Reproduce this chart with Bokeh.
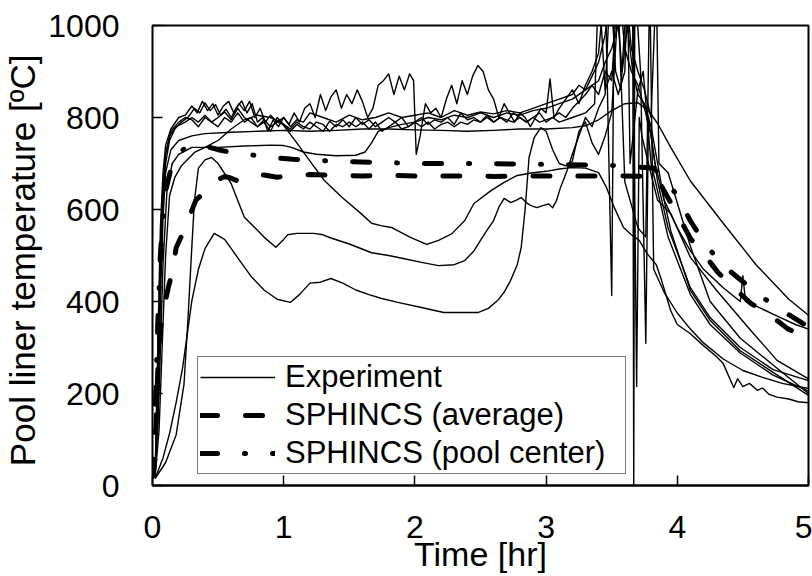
from bokeh.plotting import figure
from bokeh.models import Legend, LegendItem, Range1d, FixedTicker
from bokeh.embed import file_html
from bokeh.resources import INLINE

# ---------------- data ----------------
x_ticks = [0, 1, 2, 3, 4, 5]
y_ticks = [0, 200, 400, 600, 800, 1000]

# Experiment thermocouples (time [hr], temperature [C])
exp1_t = [0.02,0.08,0.13,0.18,0.23,0.30,0.35,0.40,0.47,0.55,0.65,0.75,0.85,0.95,1.05,1.12,1.20,1.28,1.36,1.45,1.55,1.65,1.74,1.87,2.05,2.22,2.35,2.48,2.56,2.63,2.68,2.73,2.78,2.81,2.84,2.87,2.91,2.96,3.00,3.05,3.10,3.15,3.20,3.25,3.30,3.35,3.40,3.45,3.50,3.55,3.60,3.70,3.76,3.79,3.82,3.90,4.00,4.10,4.20,4.35,4.50,4.65,4.80,5.00]
exp1_T = [15,60,113,180,257,402,470,515,548,535,495,455,425,405,398,415,440,442,450,440,425,415,407,398,387,376,376,376,385,402,420,446,480,517,600,713,757,778,770,730,700,695,705,770,790,745,720,760,810,1050,660,560,540,1100,470,420,375,340,310,275,250,235,222,211]

exp2_t = [0.02,0.10,0.18,0.24,0.27,0.30,0.32,0.35,0.40,0.45,0.50,0.60,0.70,0.80,0.85,0.94,1.00,1.03,1.10,1.23,1.30,1.36,1.50,1.67,1.80,1.92,2.05,2.18,2.30,2.38,2.45,2.50,2.55,2.60,2.64,2.68,2.73,2.77,2.81,2.85,2.88,2.93,2.98,3.02,3.05,3.08,3.11,3.16,3.20,3.25,3.30,3.35,3.40,3.45,3.49,3.53,3.57,3.62,3.66,3.69,3.71,3.73,3.78,3.85,3.95,4.10,4.30,4.56,4.76,5.00]
exp2_T = [15,50,110,220,360,520,620,690,708,713,700,656,583,555,540,518,535,545,548,548,545,538,525,506,500,493,485,478,480,489,510,533,555,576,605,624,615,620,626,615,609,604,609,612,604,620,648,685,720,760,800,780,820,850,1100,900,860,1100,1100,215,800,760,700,620,591,496,424,337,272,232]

exp3_t = [0.02,0.05,0.08,0.10,0.13,0.17,0.22,0.32,0.40,0.50,0.60,0.70,0.80,0.90,0.98,1.10,1.20,1.31,1.45,1.59,1.67,1.74,1.82,1.97,2.09,2.18,2.28,2.38,2.45,2.58,2.68,2.78,2.90,3.00,3.10,3.19,3.30,3.40,3.46,3.52,3.59,3.65,3.71,3.77,3.84,3.88,3.95,4.00,4.10,4.18,4.30,4.35,4.43,4.46,4.50,4.55,4.61,4.65,4.70,4.76,4.85,4.92,5.00]
exp3_T = [20,120,350,500,630,670,695,724,735,750,775,795,805,800,790,745,705,663,625,591,570,565,561,539,524,533,547,576,613,641,659,674,680,683,688,691,690,680,648,604,561,545,533,504,480,446,380,350,330,309,280,265,213,232,215,222,207,212,198,192,188,182,180]

exp4_t = [0.02,0.04,0.06,0.08,0.10,0.14,0.20,0.30,0.40,0.60,0.80,1.00,1.20,1.40,1.60,1.80,2.00,2.20,2.40,2.60,2.80,3.00,3.20,3.30,3.40,3.50,3.60,3.70,3.78,3.85,3.95,4.10,4.35,4.60,4.85,5.00]
exp4_T = [20,150,400,580,680,730,750,760,765,768,770,772,770,772,775,775,773,772,770,772,775,775,778,782,795,815,830,832,815,787,735,662,570,480,405,370]

exp5_t = [0.02,0.05,0.08,0.11,0.15,0.20,0.30,0.50,0.70,0.90,1.00,1.06,1.15,1.25,1.40,1.55,1.62,1.67,1.72,1.80,1.90,2.00,2.10,2.20,2.30,2.40,2.50,2.60,2.70,2.80,2.90,3.00,3.10,3.20,3.30,3.40,3.45,3.50,3.55,3.60,3.660,3.668,3.676,3.72,3.76,3.78,3.83,3.90,4.00,4.10,4.20,4.35,4.48,4.50,4.52,4.60,4.75,4.90,5.00]
exp5_T = [20,200,480,640,700,720,735,735,738,740,739,735,725,720,717,718,725,745,770,778,785,790,800,795,805,800,810,800,810,805,815,820,830,840,860,880,920,950,1000,1100,1100,0,1100,900,309,800,700,620,560,510,470,430,400,456,400,390,370,350,340]

exp6_t = [0.02,0.04,0.06,0.08,0.10,0.13,0.17,0.22,0.27,0.32,0.36,0.40,0.44,0.48,0.52,0.56,0.60,0.64,0.68,0.72,0.76,0.80,0.84,0.88,0.92,0.96,1.00,1.04,1.08,1.12,1.16,1.20,1.24,1.28,1.32,1.36,1.40,1.44,1.48,1.52,1.56,1.60,1.64,1.68,1.72,1.76,1.80,1.84,1.88,1.92,1.96,1.99,2.01,2.04,2.08,2.12,2.16,2.20,2.24,2.28,2.32,2.36,2.40,2.44,2.48,2.52,2.56,2.60,2.64,2.68,2.72,2.76,2.80,2.84,2.88,2.92,2.96,3.00,3.03,3.06,3.10,3.15,3.20,3.25,3.30,3.35,3.40,3.45,3.50,3.52,3.58,3.62,3.66,3.70,3.75,3.80,3.85,3.90,3.95,4.10,4.25,4.48,4.73,5.00]
exp6_T = [25,200,450,620,700,750,775,790,800,820,810,832,815,828,805,818,800,822,836,810,830,790,800,770,795,780,800,785,810,790,820,830,800,850,815,845,860,820,850,830,860,835,800,820,870,880,895,850,890,860,895,880,720,760,830,810,820,800,840,870,830,880,850,890,913,900,860,840,800,830,810,790,810,800,780,800,820,810,884,800,820,840,860,830,870,900,940,1100,413,1100,900,1000,900,850,830,780,700,620,554,424,359,293,246,196]

exp7_t = [0.02,0.04,0.06,0.08,0.10,0.13,0.18,0.25,0.30,0.35,0.40,0.45,0.50,0.55,0.60,0.65,0.70,0.75,0.80,0.85,0.90,0.95,1.00,1.05,1.10,1.15,1.20,1.25,1.30,1.35,1.40,1.45,1.50,1.55,1.60,1.65,1.70,1.75,1.80,1.85,1.90,1.95,2.00,2.05,2.10,2.15,2.20,2.25,2.30,2.35,2.40,2.45,2.50,2.55,2.60,2.65,2.70,2.75,2.80,2.85,2.90,2.95,3.00,3.05,3.10,3.15,3.20,3.30,3.35,3.40,3.45,3.50,3.55,3.60,3.65,3.70,3.75,3.80,3.85,3.93,4.10,4.25,4.48,4.73,5.00]
exp7_T = [20,250,520,650,720,760,780,790,800,790,805,790,800,812,795,820,800,790,780,795,780,790,785,770,785,775,790,780,770,792,780,795,780,800,785,795,780,790,800,790,800,780,790,800,785,795,790,800,785,810,795,800,790,805,790,800,790,810,800,790,800,810,790,800,810,800,820,850,870,850,900,880,1100,950,900,870,820,760,660,560,430,365,300,252,228]

exp8_t = [0.02,0.04,0.06,0.08,0.10,0.14,0.20,0.25,0.30,0.35,0.40,0.45,0.50,0.55,0.60,0.65,0.70,0.75,0.80,0.85,0.90,0.95,1.00,1.05,1.10,1.15,1.20,1.25,1.30,1.35,1.40,1.45,1.50,1.55,1.60,1.65,1.70,1.75,1.80,1.85,1.90,1.95,2.00,2.05,2.10,2.15,2.20,2.25,2.30,2.35,2.40,2.45,2.50,2.55,2.60,2.65,2.70,2.75,2.80,2.85,2.90,2.95,3.00,3.05,3.10,3.20,3.30,3.37,3.40,3.45,3.50,3.55,3.60,3.62,3.64,3.70,3.74,3.77,3.80,3.85,3.93,4.10,4.25,4.48,4.73,5.00]
exp8_T = [20,180,480,640,720,770,790,800,795,780,800,790,780,800,790,810,790,800,780,790,770,800,785,775,790,780,775,790,785,770,785,780,790,780,790,775,790,770,780,790,775,780,790,780,790,775,785,790,780,790,785,795,790,800,790,800,795,790,800,790,800,790,795,800,790,800,810,830,1100,860,900,850,900,1100,700,860,900,800,700,640,540,415,350,288,240,205]

exp9_t = [0.02,0.04,0.06,0.08,0.10,0.14,0.20,0.25,0.30,0.34,0.38,0.42,0.46,0.50,0.54,0.58,0.62,0.66,0.70,0.74,0.78,0.82,0.86,0.90,0.95,1.00,1.05,1.10,1.15,1.20,1.30,1.40,1.50,1.60,1.70,1.80,1.90,2.00,2.10,2.20,2.30,2.40,2.50,2.60,2.70,2.80,2.90,3.00,3.10,3.20,3.25,3.30,3.35,3.40,3.45,3.50,3.55,3.60,3.65,3.70,3.75,3.80,3.84,3.86,3.93,4.10,4.25,4.48,4.73,5.00]
exp9_T = [20,300,560,680,740,775,800,805,825,810,835,815,830,805,825,835,810,830,815,835,800,820,790,805,790,800,780,795,790,810,800,790,805,795,800,810,800,805,810,800,815,805,812,808,815,810,820,830,840,850,870,860,890,920,980,1100,1000,1100,950,900,860,800,1100,700,680,520,400,320,262,200]

# SPHINCS (average)
avg_t = [0.00,0.02,0.04,0.06,0.09,0.12,0.15,0.18,0.24,0.33,0.43,0.50,0.55,0.60,0.65,0.70,0.75,0.85,0.95,1.05,1.20,1.40,1.60,1.80,2.00,2.30,2.60,2.90,3.20,3.50,3.84,3.90,4.00,4.10,4.20,4.31,4.43,4.56,4.69,4.84,5.00]
avg_T = [20,60,250,340,390,430,463,517,554,620,648,665,672,668,662,668,673,675,670,674,676,674,673,674,673,673,672,673,673,673,672,640,590,537,504,463,430,396,374,341,320]

# SPHINCS (pool center)
pc_t = [0.00,0.02,0.04,0.06,0.08,0.10,0.15,0.20,0.30,0.40,0.50,0.60,0.72,0.90,1.07,1.30,1.50,1.80,2.00,2.50,3.00,3.50,3.82,3.93,4.00,4.10,4.22,4.35,4.47,4.62,4.77,4.92,5.00]
pc_T = [20,150,350,500,590,640,700,725,740,738,730,724,720,713,709,706,704,702,700,700,698,696,690,656,630,575,522,478,450,415,385,359,345]

experiments = [(exp1_t, exp1_T), (exp2_t, exp2_T), (exp3_t, exp3_T), (exp4_t, exp4_T),
               (exp5_t, exp5_T), (exp6_t, exp6_T), (exp7_t, exp7_T), (exp8_t, exp8_T),
               (exp9_t, exp9_T)]
for i, (tt, TT) in enumerate(experiments):
    assert len(tt) == len(TT), f"exp{i+1}: {len(tt)} vs {len(TT)}"
assert len(avg_t) == len(avg_T)
assert len(pc_t) == len(pc_T)

labels = ["Experiment", "SPHINCS (average)", "SPHINCS (pool center)"]
x_title = "Time [hr]"
y_title = "Pool liner temperature  [\u00baC]"

# ---------------- figure ----------------
FONT = "Liberation Sans"
p = figure(width=812, height=576, output_backend="svg", toolbar_location=None,
           x_range=Range1d(0, 5), y_range=Range1d(0, 1000),
           min_border_left=151, min_border_right=4, min_border_top=25, min_border_bottom=91,
           x_axis_label=x_title, y_axis_label=y_title)
p.background_fill_color = "white"
p.border_fill_color = "white"
p.outline_line_color = "black"
p.outline_line_width = 2
p.xgrid.visible = False
p.ygrid.visible = False

for ax, ticks in ((p.xaxis[0], x_ticks), (p.yaxis[0], y_ticks)):
    ax.ticker = FixedTicker(ticks=ticks)
    ax.axis_line_color = "black"
    ax.axis_line_width = 2
    ax.major_tick_in = 10
    ax.major_tick_out = 0
    ax.major_tick_line_color = "black"
    ax.major_tick_line_width = 1.5
    ax.minor_tick_line_color = None
    ax.major_label_text_font = FONT
    ax.major_label_text_font_size = "32px"
    ax.major_label_text_color = "black"
    ax.axis_label_text_font = FONT
    ax.axis_label_text_font_style = "normal"
    ax.axis_label_text_color = "black"

p.xaxis[0].axis_label_text_font_size = "34px"
p.yaxis[0].axis_label_text_font_size = "35px"
p.xaxis[0].major_label_standoff = 30
p.xaxis[0].axis_label_standoff = -6
p.yaxis[0].major_label_standoff = 33
p.yaxis[0].axis_label_standoff = 3
# the frame outline draws the left border; the axis extent only centres its title
p.yaxis[0].axis_line_color = None
p.yaxis[0].bounds = (-80, 1000)

exp_renderers = []
for tt, TT in experiments:
    r = p.line(tt, TT, line_color="black", line_width=1.4, line_join="round")
    exp_renderers.append(r)

r_avg = p.line(avg_t, avg_T, line_color="black", line_width=5, line_dash="17 28",
               line_cap="round", line_join="round")
r_pc = p.line(pc_t, pc_T, line_color="black", line_width=5, line_dash="17 27 1 27",
              line_cap="round", line_join="round")

legend = Legend(items=[LegendItem(label=labels[0], renderers=[exp_renderers[0]]),
                       LegendItem(label=labels[1], renderers=[r_avg]),
                       LegendItem(label=labels[2], renderers=[r_pc])],
                location=(45, 11), orientation="vertical", margin=0,
                padding=2, spacing=2, glyph_width=75, glyph_height=36, label_height=36,
                label_width=338, label_standoff=10,
                label_text_font=FONT, label_text_font_size="31px",
                label_text_color="black",
                border_line_color="black", border_line_width=1.5,
                background_fill_color="white", background_fill_alpha=1.0)
p.add_layout(legend)

open("out.html", "w").write(file_html(p, INLINE))
